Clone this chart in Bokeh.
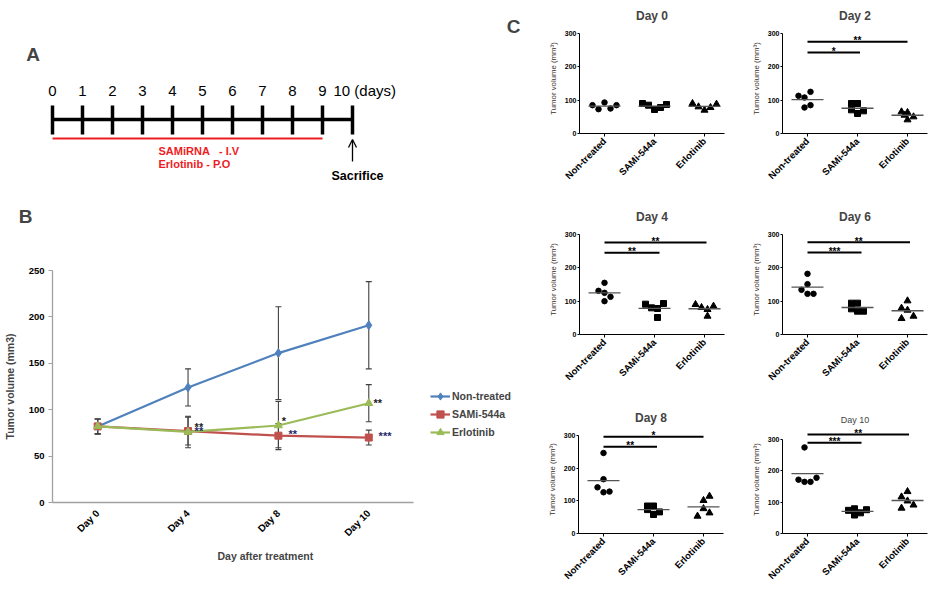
import math
import numpy as np
from bokeh.plotting import figure
from bokeh.layouts import row, column
from bokeh.models import (Range1d, FixedTicker, ColumnDataSource, Whisker, TeeHead,
                          Legend, LegendItem, Label, Arrow, OpenHead, Title)
from bokeh.core.properties import value
from bokeh.embed import file_html
from bokeh.resources import INLINE

FONT = "Liberation Sans"

# ---------------- Panel A : treatment schedule ----------------
timeline_days = [0, 1, 2, 3, 4, 5, 6, 7, 8, 9, 10]
timeline_labels = ["0", "1", "2", "3", "4", "5", "6", "7", "8", "9", "10 (days)"]
treatment_first_day = 0
treatment_last_day = 9
sacrifice_day = 10
treatment_notes = ["SAMiRNA\u00a0\u00a0\u00a0- I.V", "Erlotinib - P.O"]
sacrifice_note = "Sacrifice"

# ---------------- Panel B : mean tumour volume ----------------
b_days = ["Day 0", "Day 4", "Day 8", "Day 10"]
b_series = ["Non-treated", "SAMi-544a", "Erlotinib"]
b_nontreated = [82, 124, 161, 191]
b_nontreated_err = [8, 20, 50, 47]
b_sami = [82, 77, 72, 70]
b_sami_err = [8, 15, 13, 8]
b_erlotinib = [82, 76, 83, 107]
b_erlotinib_err = [8, 17, 26, 20]
b_yticks = [0, 50, 100, 150, 200, 250]
b_star_text = ["**", "**", "*", "**", "**", "***"]
b_star_day = [1.12, 1.12, 2.06, 2.16, 3.1, 3.18]
b_star_value = [88, 83, 94, 80, 114, 78]

# ---------------- Panel C : individual tumour volumes ----------------
c_groups = ["Non-treated", "SAMi-544a", "Erlotinib"]
c_yticks = [0, 100, 200, 300]

day0_nontreated = [85, 73, 93, 75, 85]
day0_sami = [90, 85, 72, 78, 87]
day0_erlotinib = [90, 80, 70, 78, 88]
day2_nontreated = [113, 108, 78, 125, 85]
day2_sami = [90, 90, 71, 60, 68]
day2_erlotinib = [65, 63, 55, 41, 50]
day4_nontreated = [131, 155, 125, 113, 100]
day4_sami = [91, 80, 78, 51, 93]
day4_erlotinib = [90, 81, 75, 55, 85]
day6_nontreated = [182, 151, 134, 122, 122]
day6_sami = [94, 94, 77, 70, 70]
day6_erlotinib = [101, 79, 73, 48, 55]
day8_nontreated = [246, 166, 141, 126, 128]
day8_sami = [84, 84, 73, 58, 66]
day8_erlotinib = [101, 114, 76, 53, 63]
day10_nontreated = [275, 172, 165, 165, 178]
day10_sami = [74, 79, 59, 66, 76]
day10_erlotinib = [117, 134, 104, 81, 91]

# horizontal scatter slot of each point (column-scatter jitter)
day0_slots = [[-2, -1, 0, 1, 2], [-2, -1, 0, 1, 2], [-2, -1, 0, 1, 2]]
day2_slots = [[-1.5, -0.5, -0.5, 0.5, 0.5], [-1, 0, -1, 0, 1], [-1, 0, -0.5, 0, 1]]
day4_slots = [[-1, 0, 0, 1, 0], [-1.5, -0.5, 0.5, 0.5, 1.5], [-1.5, -0.5, 0.5, 0.5, 1.5]]
day6_slots = [[0, 0, -1, 0, 1], [-1, 0, -1, 0, 1], [0, -1, 0, -1, 1]]
day8_slots = [[0, 0, -1, 0, 1], [-1, 0, -1, 0, 1], [0, 1, 0, -1, 1]]
day10_slots = [[-0.5, -1.5, -0.5, 0.5, 1.5], [-1.5, -0.5, -0.5, 0.5, 1.5], [-1, 0, 0, -1, 1]]

# significance brackets (from Non-treated to the compared group)
day2_sig_text, day2_sig_end, day2_sig_y = ["*", "**"], [2.05, 3.0], [243, 275]
day4_sig_text, day4_sig_end, day4_sig_y = ["**", "**"], [2.1, 3.04], [245, 276]
day6_sig_text, day6_sig_end, day6_sig_y = ["***", "**"], [2.08, 3.05], [246, 277]
day8_sig_text, day8_sig_end, day8_sig_y = ["**", "*"], [2.07, 3.0], [265, 296]
day10_sig_text, day10_sig_end, day10_sig_y = ["***", "**"], [2.08, 3.03], [290, 316]


def bare_fig(w, h, xr, yr, **kw):
    p = figure(width=w, height=h, x_range=xr, y_range=yr, output_backend="svg",
               toolbar_location=None, **kw)
    p.grid.visible = False
    p.outline_line_color = None
    p.background_fill_color = "white"
    p.border_fill_color = "white"
    return p


# =============== Panel A (also carries the panel letters A, B, C) ===============
A_H = 230
KPX = 30.0  # pixels per day
pA = bare_fig(520, A_H, Range1d(-52 / KPX, (520 - 52) / KPX), Range1d(A_H, 0),
              x_axis_location=None, y_axis_location=None, min_border=0)
pA.segment(x0=[timeline_days[0]], x1=[timeline_days[-1]], y0=[119], y1=[119],
           line_color="black", line_width=3.5)
pA.segment(x0=timeline_days, x1=timeline_days, y0=[105] * len(timeline_days),
           y1=[134] * len(timeline_days), line_color="black", line_width=3.5)
pA.text(x=timeline_days[:-1], y=[90] * (len(timeline_days) - 1), text=timeline_labels[:-1],
        text_font=value(FONT), text_font_size="15px", text_align="center",
        text_baseline="middle", text_color="black")
pA.text(x=[timeline_days[-1]], y=[90], text=[timeline_labels[-1]], x_offset=-19,
        text_font=value(FONT), text_font_size="15px", text_align="left",
        text_baseline="middle", text_color="black")
pA.segment(x0=[treatment_first_day], x1=[treatment_last_day], y0=[138], y1=[138],
           line_color="#EE1C25", line_width=2)
mid_t = (treatment_first_day + treatment_last_day) / 2
pA.text(x=[mid_t, mid_t], y=[150, 163], text=treatment_notes, x_offset=-29,
        text_font=value(FONT), text_font_size="11px", text_font_style="bold",
        text_align="left", text_baseline="middle", text_color="#EE1C25")
pA.add_layout(Arrow(end=OpenHead(size=8, line_width=1.3, line_color="black"),
                    x_start=sacrifice_day, y_start=161, x_end=sacrifice_day, y_end=139,
                    line_width=1.3, line_color="black"))
pA.text(x=[sacrifice_day], y=[175], text=[sacrifice_note], x_offset=5,
        text_font=value(FONT), text_font_size="12.5px", text_font_style="bold",
        text_align="center", text_baseline="middle", text_color="black")
for letter, lx, ly in (("A", 32.5, 54), ("B", 25, 215.5), ("C", 513, 25.5)):
    pA.add_layout(Label(x=lx, y=A_H - ly, x_units="screen", y_units="screen", text=letter,
                        text_font=FONT, text_font_size="19px", text_font_style="bold",
                        text_align="center", text_baseline="middle"))

# =============== Panel B ===============
B_TOP = 270 - A_H
B_PX = 363 / 4.0          # pixels per day category
B_FRAME_W = 520 - 50      # frame reaches the right edge so that the legend fits inside
pB = bare_fig(520, 589 - A_H, Range1d(-0.5, -0.5 + B_FRAME_W / B_PX), Range1d(0, 250),
              min_border_left=50, min_border_right=0, min_border_top=B_TOP,
              min_border_bottom=87)
xb = list(range(len(b_days)))
colors = ["#4F81BD", "#C0504D", "#9BBB59"]
markers = ["diamond", "square", "triangle"]
msizes = [9, 7, 8]
legend_items = []
series_vals = [(b_nontreated, b_nontreated_err), (b_sami, b_sami_err), (b_erlotinib, b_erlotinib_err)]
for (vals, errs) in series_vals:
    src = ColumnDataSource(dict(x=xb, upper=[v + e for v, e in zip(vals, errs)],
                                lower=[v - e for v, e in zip(vals, errs)]))
    pB.add_layout(Whisker(source=src, base="x", upper="upper", lower="lower",
                          line_color="#404040", line_width=1.1,
                          upper_head=TeeHead(size=6, line_color="#404040", line_width=1.1),
                          lower_head=TeeHead(size=6, line_color="#404040", line_width=1.1)))
for i, (vals, errs) in enumerate(series_vals):
    lr = pB.line(xb, vals, line_color=colors[i], line_width=2.2)
    sr = pB.scatter(xb, vals, marker=markers[i], size=msizes[i], fill_color=colors[i],
                    line_color=colors[i])
    legend_items.append(LegendItem(label=b_series[i], renderers=[lr, sr]))

star_colors = ["#222222", "#1F2A6B", "#222222", "#1F2A6B", "#222222", "#1F2A6B"]
pB.text(x=b_star_day, y=b_star_value, text=b_star_text, text_color=star_colors,
        text_font=value(FONT), text_font_size="11px", text_font_style="bold",
        text_align="center", text_baseline="alphabetic", y_offset=6)

pB.yaxis.ticker = FixedTicker(ticks=b_yticks)
pB.xaxis.ticker = FixedTicker(ticks=xb)
pB.xaxis.bounds = (-0.5, 3.5)
pB.xaxis.major_label_overrides = {i: d for i, d in enumerate(b_days)}
pB.xaxis.major_label_orientation = math.pi / 4
for ax in (pB.xaxis[0], pB.yaxis[0]):
    ax.axis_line_color = "#A0A0A0"
    ax.axis_line_width = 1.3
    ax.major_tick_line_color = "#A0A0A0"
    ax.minor_tick_line_color = None
    ax.major_tick_out = 4
    ax.major_tick_in = 0
    ax.major_label_text_font = FONT
    ax.major_label_text_font_style = "bold"
    ax.major_label_text_color = "black"
pB.xaxis.major_tick_line_color = None
pB.xaxis.major_label_text_font_size = "10px"
pB.yaxis.major_label_text_font_size = "9.5px"
pB.yaxis.major_label_standoff = 4
pB.yaxis.axis_label = "Tumor volume (mm3)"
pB.yaxis.axis_label_text_font = FONT
pB.yaxis.axis_label_text_font_size = "10.5px"
pB.yaxis.axis_label_text_font_style = "bold"
pB.yaxis.axis_label_standoff = 10
pB.add_layout(Title(text="Day after treatment", align="left", offset=165, standoff=5,
                    text_font=FONT, text_font_size="10.5px", text_font_style="bold"),
              "below")
legend = Legend(items=legend_items, location=(378, 61), border_line_color=None,
                background_fill_alpha=0, padding=0, margin=0, spacing=0,
                label_height=18, glyph_height=18, glyph_width=20, label_standoff=2,
                label_text_font=FONT, label_text_font_size="10.5px",
                label_text_font_style="bold")
pB.add_layout(legend)


# =============== Panel C ===============
JIT = 0.12


def make_c(title, values, slots, sig_text, sig_end, sig_y, bl, br, bt, bb,
           ytop=330, small_title=False):
    frame_h = ytop / 3.0
    p = bare_fig(int(bl + 145 + br), int(round(bt + frame_h + bb)),
                 Range1d(0.5, 3.4), Range1d(0, ytop),
                 min_border_left=bl, min_border_right=br, min_border_top=bt,
                 min_border_bottom=bb)
    p.title.text = title
    p.title.align = "center"
    p.title.text_font = FONT
    p.title.standoff = 1
    if small_title:
        p.title.text_font_size = "9px"
        p.title.text_font_style = "normal"
    else:
        p.title.text_font_size = "12px"
        p.title.text_font_style = "bold"
    mk = ["circle", "square", "triangle"]
    sz = [5.5, 6, 7]
    for gi in range(3):
        xs = [gi + 1 + s * JIT for s in slots[gi]]
        p.scatter(xs, values[gi], marker=mk[gi], size=sz[gi], fill_color="black",
                  line_color="black")
        m = float(np.mean(values[gi]))
        p.segment(x0=[gi + 1 - 0.32], x1=[gi + 1 + 0.32], y0=[m], y1=[m],
                  line_color="#555555", line_width=1.3)
    if sig_text:
        p.segment(x0=[1] * len(sig_end), x1=sig_end, y0=sig_y, y1=sig_y,
                  line_color="black", line_width=2)
        p.text(x=[(1 + e) / 2 for e in sig_end], y=sig_y, text=sig_text,
               text_font=value(FONT), text_font_size="10px", text_font_style="bold",
               text_align="center", text_baseline="alphabetic", y_offset=-1,
               text_color="black")
    p.yaxis.ticker = FixedTicker(ticks=c_yticks)
    p.yaxis.bounds = (c_yticks[0], c_yticks[-1])
    p.xaxis.ticker = FixedTicker(ticks=[1, 2, 3])
    p.xaxis.major_label_overrides = {i + 1: g for i, g in enumerate(c_groups)}
    p.xaxis.major_label_orientation = math.pi / 4
    for ax in (p.xaxis[0], p.yaxis[0]):
        ax.axis_line_color = "black"
        ax.axis_line_width = 1
        ax.major_tick_line_color = "black"
        ax.minor_tick_line_color = None
        ax.major_tick_out = 3
        ax.major_tick_in = 0
        ax.major_label_text_font = FONT
        ax.major_label_text_font_style = "bold"
        ax.major_label_text_color = "black"
    p.xaxis.major_label_text_font_size = "9.5px"
    p.xaxis.major_label_standoff = 3
    p.yaxis.major_label_text_font_size = "7px"
    p.yaxis.major_label_standoff = 1
    p.yaxis.major_tick_out = 2
    p.yaxis.axis_label = "Tumor volume (mm\u00b3)"
    p.yaxis.axis_label_text_font = FONT
    p.yaxis.axis_label_text_font_size = "7.8px"
    p.yaxis.axis_label_text_font_style = "normal"
    p.yaxis.axis_label_text_color = "#3a2f28"
    p.yaxis.axis_label_standoff = 4
    return p


c0 = make_c("Day 0", [day0_nontreated, day0_sami, day0_erlotinib], day0_slots,
            [], [], [], bl=59, br=3, bt=23, bb=68)
c2 = make_c("Day 2", [day2_nontreated, day2_sami, day2_erlotinib], day2_slots,
            day2_sig_text, day2_sig_end, day2_sig_y, bl=55, br=7, bt=23, bb=68)
c4 = make_c("Day 4", [day4_nontreated, day4_sami, day4_erlotinib], day4_slots,
            day4_sig_text, day4_sig_end, day4_sig_y, bl=59, br=3, bt=23, bb=68)
c6 = make_c("Day 6", [day6_nontreated, day6_sami, day6_erlotinib], day6_slots,
            day6_sig_text, day6_sig_end, day6_sig_y, bl=55, br=7, bt=23, bb=68)
c8 = make_c("Day 8", [day8_nontreated, day8_sami, day8_erlotinib], day8_slots,
            day8_sig_text, day8_sig_end, day8_sig_y, bl=58, br=4, bt=23, bb=54)
c10 = make_c("Day 10", [day10_nontreated, day10_sami, day10_erlotinib], day10_slots,
             day10_sig_text, day10_sig_end, day10_sig_y, bl=55, br=7, bt=16, bb=56,
             ytop=345, small_title=True)

left = column(row(pA), row(pB))
right = column(row(c0, c2), row(c4, c6), row(c8, c10))
layout = row(left, right)
open("out.html", "w").write(file_html(layout, INLINE))
